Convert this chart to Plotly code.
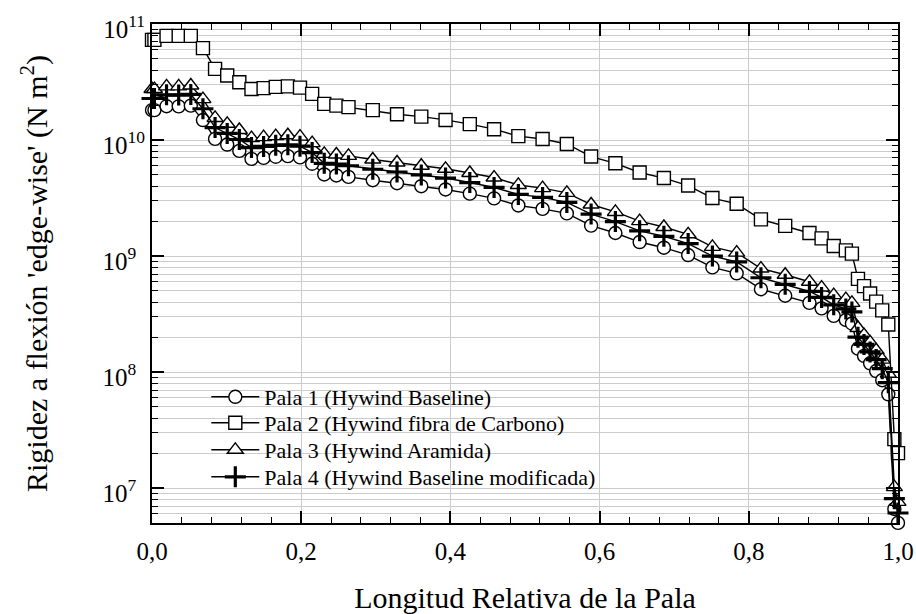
import plotly.graph_objects as go

# Relative span stations along the blade
span = [0.0, 0.00325, 0.01951, 0.03577, 0.05203, 0.06829, 0.08455, 0.10081,
        0.11707, 0.13335, 0.14959, 0.16585, 0.18211, 0.19837, 0.21465, 0.23089,
        0.24715, 0.26341, 0.29595, 0.32846, 0.36098, 0.39350, 0.42602, 0.45855,
        0.49106, 0.52358, 0.55610, 0.58862, 0.62115, 0.65366, 0.68618, 0.71870,
        0.75122, 0.78376, 0.81626, 0.84878, 0.88130, 0.89756, 0.91382, 0.93008,
        0.93821, 0.94636, 0.95447, 0.96260, 0.97073, 0.97886, 0.98699, 0.99512,
        1.0]

# Edge-wise bending stiffness (N m^2)
pala1 = [1.811e10, 1.811e10, 1.956e10, 1.950e10, 1.979e10, 1.486e10, 1.022e10,
         9.14e9, 8.06e9, 6.88e9, 7.01e9, 7.17e9, 7.27e9, 7.08e9, 6.24e9, 5.05e9,
         4.95e9, 4.81e9, 4.50e9, 4.24e9, 4.00e9, 3.75e9, 3.45e9, 3.14e9, 2.73e9,
         2.55e9, 2.33e9, 1.83e9, 1.58e9, 1.32e9, 1.18e9, 1.02e9, 7.98e8, 7.10e8,
         5.18e8, 4.55e8, 3.95e8, 3.54e8, 3.05e8, 2.81e8, 2.62e8, 1.59e8, 1.38e8,
         1.19e8, 1.02e8, 8.51e7, 6.43e7, 6.61e6, 5.01e6]

pala2 = [7.3e10, 7.3e10, 7.9e10, 7.9e10, 7.9e10, 6.2e10, 4.1e10, 3.6e10,
         3.15e10, 2.75e10, 2.8e10, 2.87e10, 2.9e10, 2.83e10, 2.5e10, 2.05e10,
         1.98e10, 1.92e10, 1.81e10, 1.67e10, 1.59e10, 1.49e10, 1.37e10, 1.24e10,
         1.08e10, 1.02e10, 9.25e9, 7.2e9, 6.3e9, 5.25e9, 4.7e9, 4.05e9, 3.16e9,
         2.82e9, 2.07e9, 1.82e9, 1.58e9, 1.42e9, 1.22e9, 1.12e9, 1.05e9, 6.35e8,
         5.5e8, 4.75e8, 4.05e8, 3.4e8, 2.57e8, 2.64e7, 2.0e7]

pala3 = [2.75e10, 2.75e10, 2.9e10, 2.9e10, 2.95e10, 2.25e10, 1.55e10, 1.38e10,
         1.22e10, 1.04e10, 1.06e10, 1.08e10, 1.10e10, 1.07e10, 9.4e9, 7.6e9,
         7.5e9, 7.3e9, 6.8e9, 6.4e9, 6.0e9, 5.65e9, 5.2e9, 4.75e9, 4.1e9, 3.85e9,
         3.5e9, 2.78e9, 2.4e9, 2.0e9, 1.78e9, 1.54e9, 1.2e9, 1.07e9, 7.8e8,
         6.9e8, 6.0e8, 5.35e8, 4.6e8, 4.25e8, 3.95e8, 2.4e8, 2.08e8, 1.8e8,
         1.54e8, 1.28e8, 9.7e7, 1.02e7, 7.6e6]

pala4 = [2.28e10, 2.28e10, 2.45e10, 2.44e10, 2.47e10, 1.86e10, 1.28e10, 1.14e10,
         1.01e10, 8.6e9, 8.8e9, 9.0e9, 9.1e9, 8.85e9, 7.8e9, 6.3e9, 6.2e9,
         6.0e9, 5.6e9, 5.3e9, 5.0e9, 4.7e9, 4.3e9, 3.9e9, 3.4e9, 3.2e9, 2.9e9,
         2.3e9, 1.98e9, 1.65e9, 1.48e9, 1.28e9, 1.0e9, 8.9e8, 6.5e8, 5.7e8,
         4.95e8, 4.4e8, 3.8e8, 3.5e8, 3.3e8, 2.0e8, 1.73e8, 1.49e8, 1.28e8,
         1.07e8, 8.1e7, 8.1e6, 6.1e6]

names = ["Pala 1 (Hywind Baseline)",
         "Pala 2 (Hywind fibra de Carbono)",
         "Pala 3 (Hywind Aramida)",
         "Pala 4 (Hywind Baseline modificada)"]
series = [pala1, pala2, pala3, pala4]
symbols = ["circle", "square", "triangle-up", "cross-thin"]
sizes = [13, 13, 14, 15]
mline = [1.4, 1.4, 1.4, 3.2]

# Decade ticks and the 2..9 minor ticks of the log axis
decades = [7, 8, 9, 10, 11]
major_vals = [10.0 ** d for d in decades]
major_text = [f"10<sup>{d}</sup>" if d >= 10 else f"10<sup>{d}&nbsp;&nbsp;</sup>"
              for d in decades]
minor_vals = [m * 10.0 ** d for d in range(6, 11) for m in range(2, 10)]

# One single-entry legend per trace, stacked in the lower-left corner
legend_ids = ["legend", "legend2", "legend3", "legend4"]
legend_y = [0.2525, 0.2004, 0.1463, 0.0922]

fig = go.Figure()
for name, vals, sym, sz, mw, lid in zip(names, series, symbols, sizes, mline,
                                        legend_ids):
    fig.add_trace(go.Scatter(
        x=span, y=vals, name=name, mode="lines+markers",
        cliponaxis=False, legend=lid,
        line=dict(color="black", width=1.4),
        marker=dict(symbol=sym, size=sz, color="white",
                    line=dict(color="black", width=mw)),
    ))

legend_style = dict(x=0.0728, xanchor="left", yanchor="middle",
                    bgcolor="rgba(0,0,0,0)", borderwidth=0,
                    font=dict(size=22), itemwidth=48)

grid = "#cccccc"
layout = dict(
    width=916, height=614, autosize=False,
    margin=dict(l=152, r=18, t=24, b=91, autoexpand=False),
    paper_bgcolor="white", plot_bgcolor="white",
    font=dict(family="Liberation Serif", color="black", size=25),
    separators=",.",
    showlegend=True,
    xaxis=dict(
        range=[0, 1], tick0=0, dtick=0.2, tickformat=".1f",
        automargin=False,
        ticks="inside", ticklen=12, tickwidth=1.5, tickcolor="black",
        showline=True, linecolor="black", linewidth=2, mirror="ticks",
        showgrid=True, gridcolor=grid, gridwidth=1, zeroline=False,
        minor=dict(dtick=0.04, ticks="inside", ticklen=6, tickwidth=1.2,
                   tickcolor="black", showgrid=False),
        tickfont=dict(size=25), ticklabelstandoff=5,
        title=dict(text="Longitud Relativa de la Pala",
                   font=dict(size=30), standoff=24),
    ),
    yaxis=dict(
        type="log", range=[6.699, 11],
        automargin=False,
        tickmode="array", tickvals=major_vals, ticktext=major_text,
        ticks="inside", ticklen=12, tickwidth=1.5, tickcolor="black",
        showline=True, linecolor="black", linewidth=2, mirror="ticks",
        showgrid=True, gridcolor=grid, gridwidth=1, zeroline=False,
        minor=dict(tickmode="array", tickvals=minor_vals, ticks="inside",
                   ticklen=6, tickwidth=1.2, tickcolor="black",
                   showgrid=True, gridcolor=grid, gridwidth=1),
        tickfont=dict(size=25), ticklabelshift=5,
        title=dict(text="Rigidez a flexión 'edge-wise' (N m<sup>2</sup>)",
                   font=dict(size=30), standoff=46),
    ),
)
for lid, ly in zip(legend_ids, legend_y):
    layout[lid] = dict(legend_style, y=ly)

fig.update_layout(**layout)
fig.write_html("out.html")
